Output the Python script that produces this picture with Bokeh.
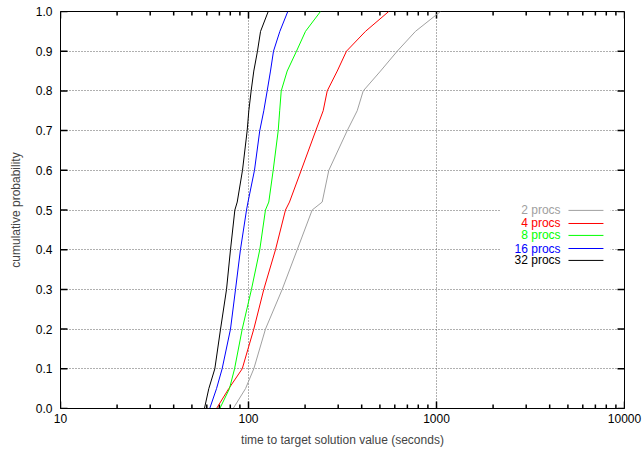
import math
from bokeh.plotting import figure
from bokeh.models import (Range1d, FixedTicker, PrintfTickFormatter,
                          Label, PolyAnnotation, BoxAnnotation)
from bokeh.embed import file_html
from bokeh.resources import INLINE

# cumulative probability levels and read-off times (seconds)
probs = [0.0, 0.05, 0.1, 0.2, 0.3, 0.4, 0.5, 0.52, 0.6, 0.7, 0.75, 0.8, 0.85, 0.9, 0.95, 1.0]
t_2procs = [82.9, 96.4, 106.7, 123.1, 151.1, 181.6, 218.1, 246.6, 267.4, 335.0, 378.6, 407.6, 503.8, 618.0, 773.0, 1050.0]
t_4procs = [67.6, 78.5, 92.6, 106.7, 120.6, 139.2, 157.3, 165.2, 190.7, 228.0, 249.6, 262.3, 296.5, 332.0, 419.0, 557.0]
t_8procs = [70.4, 79.2, 84.3, 92.6, 103.7, 114.8, 123.1, 128.2, 135.3, 143.9, 146.5, 149.3, 160.6, 180.0, 201.0, 241.5]
t_16procs = [62.2, 67.6, 72.4, 80.2, 85.3, 90.6, 97.6, 99.4, 107.6, 114.8, 120.6, 125.7, 130.9, 135.8, 146.8, 161.8]
t_32procs = [58.3, 61.5, 66.2, 71.0, 76.4, 80.2, 84.6, 87.1, 92.9, 98.4, 100.4, 103.3, 106.7, 111.6, 115.9, 127.3]

series_names = ["2 procs", "4 procs", "8 procs", "16 procs", "32 procs"]
series_times = [t_2procs, t_4procs, t_8procs, t_16procs, t_32procs]
series_colors = ["#a0a0a0", "#ff0000", "#00ff00", "#0000ff", "#000000"]

x_ticks = [10, 100, 1000, 10000]
x_minor = [m * d for d in [10, 100, 1000] for m in range(2, 10)]
y_ticks = [round(0.1 * i, 1) for i in range(11)]

X_MIN, X_MAX = 10, 10000
Y_MIN, Y_MAX = 0, 1

W, H = 643, 449
BL, BR, BT, BB = 60, 19, 11, 41
FRAME_W = W - BL - BR
FRAME_H = H - BT - BB

FONT = "Liberation Sans"

p = figure(width=W, height=H, x_axis_type="log",
           x_range=Range1d(X_MIN, X_MAX), y_range=Range1d(Y_MIN, Y_MAX),
           output_backend="svg", toolbar_location=None,
           min_border_left=BL, min_border_right=BR, min_border_top=BT, min_border_bottom=BB)
p.outline_line_color = "black"
p.outline_line_width = 1
p.background_fill_color = "white"
p.border_fill_color = "white"

p.xaxis.ticker = FixedTicker(ticks=x_ticks)
p.xaxis.formatter = PrintfTickFormatter(format="%d")
p.xaxis.axis_label = "time to target solution value (seconds)"
p.yaxis.ticker = FixedTicker(ticks=y_ticks)
p.yaxis.formatter = PrintfTickFormatter(format="%.1f")
p.yaxis.axis_label = "cumulative probability"

for ax in [p.xaxis[0], p.yaxis[0]]:
    ax.major_tick_in = 0
    ax.major_tick_out = 0
    ax.minor_tick_in = 0
    ax.minor_tick_out = 0
    ax.major_label_text_font = FONT
    ax.major_label_text_font_size = "12px"
    ax.major_label_text_color = "black"
    ax.axis_label_text_font = FONT
    ax.axis_label_text_font_size = "12px"
    ax.axis_label_text_font_style = "normal"
    ax.axis_line_color = "black"
p.xaxis.major_label_standoff = 5
p.xaxis.axis_label_standoff = 7
p.yaxis.major_label_standoff = 8
p.yaxis.axis_label_standoff = 10

p.xgrid.ticker = FixedTicker(ticks=[100, 1000])
p.ygrid.ticker = FixedTicker(ticks=y_ticks[1:-1])
for g in [p.xgrid, p.ygrid]:
    g.grid_line_color = "#606060"
    g.grid_line_dash = "1 2"
    g.grid_line_width = 1

# inward tick marks on all four sides (gnuplot style, mirrored)
MAJ, MIN = 7, 4  # pixel lengths
dy_maj = MAJ / FRAME_H * (Y_MAX - Y_MIN)
dy_min = MIN / FRAME_H * (Y_MAX - Y_MIN)
decades = math.log10(X_MAX / X_MIN)
fx_maj = 10 ** (MAJ / FRAME_W * decades)
tick_kw = dict(line_color="black", line_width=1.5)
p.segment(x0=x_ticks, x1=x_ticks, y0=[Y_MIN] * 4, y1=[Y_MIN + dy_maj] * 4, **tick_kw)
p.segment(x0=x_ticks, x1=x_ticks, y0=[Y_MAX] * 4, y1=[Y_MAX - dy_maj] * 4, **tick_kw)
n = len(x_minor)
p.segment(x0=x_minor, x1=x_minor, y0=[Y_MIN] * n, y1=[Y_MIN + dy_min] * n, **tick_kw)
p.segment(x0=x_minor, x1=x_minor, y0=[Y_MAX] * n, y1=[Y_MAX - dy_min] * n, **tick_kw)
m = len(y_ticks)
p.segment(x0=[X_MIN] * m, x1=[X_MIN * fx_maj] * m, y0=y_ticks, y1=y_ticks, **tick_kw)
p.segment(x0=[X_MAX] * m, x1=[X_MAX / fx_maj] * m, y0=y_ticks, y1=y_ticks, **tick_kw)

for name, times, color in zip(series_names, series_times, series_colors):
    p.line(times, probs, line_color=color, line_width=1)

# legend (gnuplot style: text left, sample right)
p.add_layout(BoxAnnotation(left=2188, right=8440, bottom=0.358, top=0.516,
                           fill_color="white", fill_alpha=1, line_alpha=0))
leg_y = [0.499, 0.466, 0.436, 0.403, 0.373]
for name, color, yy in zip(series_names, series_colors, leg_y):
    p.add_layout(Label(x=4571, y=yy, text=name, text_align="right", text_baseline="middle",
                       text_color=color, text_font=FONT, text_font_size="12px"))
    p.add_layout(PolyAnnotation(xs=[5035, 7727], ys=[yy, yy], line_color=color, line_alpha=1,
                                line_width=1, fill_alpha=0))

open("out.html", "w").write(file_html(p, INLINE))
